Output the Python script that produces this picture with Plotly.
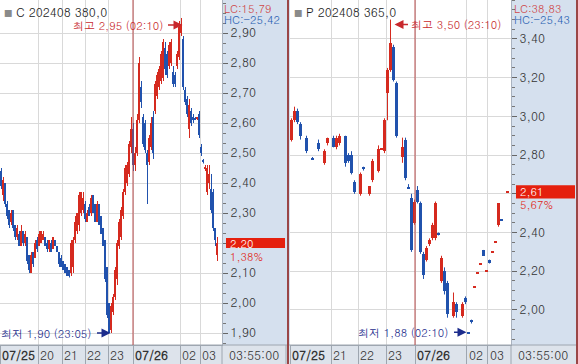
import plotly.graph_objects as go

# ---------------- data: C 202408 380,0 (5-min bars, slot index) ----------------
c_slot = list(range(0, 109))
c_open = [2.44,2.36,2.40,2.33,2.31,2.27,2.31,2.26,2.22,2.23,2.19,2.24,2.20,2.22,2.16,2.10,2.17,2.15,2.21,2.19,
          2.20,2.21,2.22,2.20,2.18,2.20,2.18,2.21,2.19,2.17,2.15,2.14,2.13,2.12,2.11,2.10,2.12,2.21,2.24,2.26,
          2.30,2.31,2.33,2.27,2.32,2.30,2.36,2.33,2.27,2.33,2.29,2.25,2.21,2.12,2.00,1.91,1.97,2.02,2.08,2.19,
          2.22,2.29,2.37,2.40,2.43,2.52,2.58,2.46,2.50,2.61,2.72,2.62,2.60,2.50,2.47,2.52,2.62,2.64,2.69,2.72,
          2.74,2.75,2.85,2.83,2.79,2.80,2.77,2.76,2.79,2.82,2.90,2.88,2.71,2.68,2.58,2.64,2.62,2.615,2.615,2.63,
          2.52,2.475,2.45,2.37,2.40,2.38,2.37,2.25,2.16]
c_high = [2.45,2.42,2.40,2.34,2.31,2.31,2.31,2.26,2.26,2.24,2.26,2.24,2.24,2.22,2.16,2.17,2.17,2.21,2.22,2.24,
          2.24,2.24,2.22,2.21,2.21,2.21,2.22,2.21,2.19,2.17,2.16,2.14,2.13,2.12,2.11,2.21,2.22,2.29,2.30,2.37,
          2.37,2.37,2.34,2.31,2.33,2.36,2.36,2.33,2.34,2.33,2.29,2.25,2.21,2.12,2.00,2.00,2.03,2.12,2.21,2.28,
          2.32,2.38,2.46,2.47,2.54,2.62,2.60,2.52,2.63,2.82,2.74,2.63,2.61,2.51,2.56,2.62,2.64,2.74,2.77,2.79,
          2.84,2.88,2.87,2.84,2.87,2.88,2.79,2.77,2.84,2.94,2.95,2.89,2.72,2.69,2.68,2.65,2.63,2.62,2.62,2.64,
          2.53,2.48,2.46,2.46,2.46,2.43,2.38,2.25,2.22]
c_low = [2.38,2.34,2.32,2.28,2.25,2.26,2.24,2.21,2.21,2.19,2.19,2.19,2.19,2.13,2.10,2.10,2.12,2.15,2.17,2.19,
         2.20,2.21,2.19,2.17,2.17,2.17,2.18,2.19,2.17,2.12,2.12,2.11,2.10,2.09,2.085,2.09,2.10,2.20,2.23,2.24,
         2.29,2.30,2.27,2.27,2.29,2.29,2.30,2.27,2.27,2.26,2.23,2.19,2.07,1.95,1.90,1.90,1.96,2.01,2.06,2.18,
         2.21,2.28,2.36,2.39,2.42,2.50,2.44,2.44,2.49,2.60,2.65,2.52,2.50,2.33,2.46,2.51,2.48,2.63,2.68,2.71,
         2.73,2.74,2.76,2.75,2.78,2.79,2.72,2.72,2.78,2.81,2.89,2.71,2.66,2.62,2.55,2.59,2.60,2.61,2.61,2.55,
         2.49,2.465,2.44,2.36,2.38,2.30,2.24,2.19,2.14]
c_close = [2.39,2.41,2.33,2.29,2.26,2.30,2.25,2.22,2.25,2.19,2.24,2.20,2.23,2.14,2.11,2.16,2.13,2.20,2.18,2.23,
           2.24,2.23,2.19,2.18,2.21,2.17,2.22,2.19,2.17,2.13,2.12,2.11,2.10,2.09,2.09,2.20,2.21,2.27,2.30,2.36,
           2.37,2.35,2.28,2.30,2.29,2.35,2.30,2.27,2.33,2.26,2.23,2.19,2.08,1.96,1.90,1.99,2.02,2.11,2.20,2.27,
           2.31,2.37,2.45,2.46,2.53,2.58,2.46,2.50,2.61,2.80,2.67,2.53,2.51,2.46,2.55,2.60,2.50,2.73,2.76,2.78,
           2.83,2.87,2.78,2.76,2.86,2.87,2.73,2.73,2.83,2.92,2.93,2.72,2.67,2.63,2.66,2.60,2.61,2.61,2.62,2.56,
           2.50,2.47,2.45,2.45,2.43,2.31,2.25,2.21,2.20]
c_tick_pos = [-0.75, 18.25, 30.25, 41.75, 53.25, 65.75, 89.25, 99.25]
c_tick_txt = ["07/25", "20", "21", "22", "23", "07/26", "02", "03"]
c_ylabels = [1.9, 2.0, 2.1, 2.2, 2.3, 2.4, 2.5, 2.6, 2.7, 2.8, 2.9]

# ---------------- data: P 202408 365,0 ----------------
p_slot = [0,1,2,3,5,7,9,11,12,14,15,16,18,19,20,21,23,24,26,27,29,30,31,32,33,34,35,37,38,39,40,41,42,43,44,45,46,47,48,49,
          50,51,52,54,55,57,58,59,60,61,62,63,64,65,66,67,68,69,70,72]
p_open = [2.88,2.98,3.03,2.96,2.89,2.785,2.86,2.76,2.86,2.89,2.84,2.86,2.90,2.80,2.80,2.66,2.60,2.735,2.60,2.67,2.72,2.83,2.82,3.12,3.24,3.36,3.17,2.79,2.88,2.635,
          2.58,2.45,2.62,2.55,2.29,2.26,2.34,2.37,2.37,2.395,2.15,2.20,2.14,1.97,2.03,1.97,2.06,1.885,1.945,2.12,2.19,2.24,2.31,2.20,2.26,2.30,2.35,2.44,2.465,2.61]
p_high = [2.99,3.05,3.04,2.97,2.90,2.79,2.88,2.83,2.89,2.90,2.90,2.91,2.90,2.81,2.82,2.67,2.71,2.74,2.64,2.78,2.85,2.83,2.99,3.25,3.50,3.37,3.18,2.89,2.89,2.65,
          2.60,2.57,2.64,2.56,2.30,2.33,2.37,2.45,2.56,2.40,2.28,2.22,2.15,2.09,2.04,2.04,2.07,1.885,1.95,2.12,2.19,2.24,2.31,2.20,2.26,2.30,2.35,2.55,2.465,2.61]
p_low = [2.87,2.97,2.96,2.88,2.81,2.78,2.82,2.75,2.85,2.84,2.83,2.85,2.74,2.76,2.70,2.60,2.59,2.72,2.59,2.66,2.71,2.83,2.81,2.98,3.23,3.18,2.89,2.76,2.67,2.63,
         2.30,2.44,2.55,2.29,2.16,2.25,2.33,2.36,2.36,2.385,2.14,2.08,1.96,1.96,1.96,1.96,2.03,1.88,1.93,2.12,2.19,2.24,2.28,2.20,2.24,2.30,2.35,2.43,2.46,2.61]
p_close = [2.98,3.03,2.97,2.90,2.82,2.78,2.83,2.82,2.89,2.84,2.89,2.90,2.76,2.77,2.71,2.61,2.70,2.73,2.64,2.77,2.83,2.83,2.98,3.24,3.38,3.19,2.90,2.84,2.68,2.63,
           2.31,2.56,2.56,2.30,2.18,2.32,2.36,2.44,2.55,2.39,2.27,2.10,1.98,2.04,1.99,2.03,2.04,1.88,1.94,2.12,2.19,2.24,2.28,2.20,2.24,2.30,2.35,2.55,2.46,2.61]
p_tick_pos = [-0.5, 13.17, 22.17, 31.5, 41.17, 58.5, 65.5]
p_tick_txt = ["07/25", "21", "22", "23", "07/26", "02", "03"]
p_ylabels = [2.0, 2.2, 2.4, 2.6, 2.8, 3.0, 3.2, 3.4]

# ---------------- style ----------------
W, H = 578, 364
RED = "#d52a1f"
BLUE = "#2152ad"
GRID = "#d9d9d9"
AXBG = "#d5e0ee"
STRIP = "#dde3eb"
FONT = "Dotum, Gulim, 'Noto Sans CJK KR', sans-serif"
STRIP_H = 19

def px(v):
    return v / W

def py(v):
    return 1 - v / H

def fmt(v):
    return f"{v:.2f}".replace(".", ",")

def ylabels(vals, last):
    # the current-price box covers the tick label next to it
    return ["" if abs(v - last) < 0.05 else fmt(v) for v in vals]

def candles(s, o, h, l, c, xa, ya, bw, eps):
    out = []
    for up, col in ((True, RED), (False, BLUE)):
        idx = [i for i in range(len(s)) if (c[i] >= o[i]) == up]
        wx, wy = [], []
        for i in idx:
            wx += [s[i], s[i], None]
            wy += [l[i], h[i], None]
        out.append(go.Scatter(x=wx, y=wy, mode="lines", line=dict(color=col, width=1),
                              xaxis=xa, yaxis=ya, hoverinfo="skip", showlegend=False))
        base, hgt = [], []
        for i in idx:
            lo, hi = min(o[i], c[i]), max(o[i], c[i])
            if hi - lo < eps:
                m = (hi + lo) / 2
                lo, hi = m - eps / 2, m + eps / 2
            base.append(lo)
            hgt.append(hi - lo)
        out.append(go.Bar(x=[s[i] for i in idx], y=hgt, base=base, width=bw,
                          marker=dict(color=col, line=dict(width=0)),
                          xaxis=xa, yaxis=ya, hoverinfo="skip", showlegend=False))
    return out

fig = go.Figure()
for t in candles(c_slot, c_open, c_high, c_low, c_close, "x", "y", 0.55, 0.004):
    fig.add_trace(t)
for t in candles(p_slot, p_open, p_high, p_low, p_close, "x2", "y2", 0.9, 0.006):
    fig.add_trace(t)

ydom = [STRIP_H / H, 1]
xcommon = dict(showticklabels=False, ticks="outside", ticklen=STRIP_H, tickcolor="#9ea6b0",
               showgrid=True, gridcolor=GRID, gridwidth=1, zeroline=False, showline=True,
               linecolor="#9ea6b0", fixedrange=True)
ycommon = dict(side="right", ticks="outside", ticklen=5, tickcolor="#666",
               showgrid=True, gridcolor=GRID, zeroline=False, showline=True, linecolor="#a9b2bf",
               tickfont=dict(family=FONT, size=12, color="#333"), fixedrange=True, domain=ydom)

fig.update_layout(
    width=W, height=H, margin=dict(l=0, r=0, t=0, b=0, pad=0), autosize=False,
    paper_bgcolor=AXBG, plot_bgcolor="white", barmode="overlay", bargap=0,
    separators=", ", showlegend=False, font=dict(family=FONT, size=12, color="#333"),
    xaxis=dict(domain=[0, px(222)], range=[-0.75, 110.25], tickvals=c_tick_pos, anchor="y", **xcommon),
    yaxis=dict(range=[1.86, 3.01], tickvals=c_ylabels, ticktext=ylabels(c_ylabels, c_close[-1]), anchor="x",
               minor=dict(dtick=0.1 / 3, tick0=1.9, ticks="outside", ticklen=3, tickcolor="#777", showgrid=False),
               **ycommon),
    xaxis2=dict(domain=[px(290), px(511)], range=[-0.5, 73.17], tickvals=p_tick_pos, anchor="y2", **xcommon),
    yaxis2=dict(range=[1.819, 3.601], tickvals=p_ylabels, ticktext=ylabels(p_ylabels, p_close[-1]), anchor="x2",
                minor=dict(dtick=0.05, tick0=2.0, ticks="outside", ticklen=3, tickcolor="#777", showgrid=False),
                **ycommon),
)

shapes = []
# bottom time strip
shapes.append(dict(type="rect", xref="paper", yref="paper", x0=0, x1=1, y0=0, y1=STRIP_H / H,
                   fillcolor=STRIP, line=dict(width=0), layer="below"))
shapes.append(dict(type="line", xref="paper", yref="paper", x0=0, x1=1, y0=STRIP_H / H, y1=STRIP_H / H,
                   line=dict(color="#9ea6b0", width=1)))
for xp in (222, 286, 511):
    shapes.append(dict(type="line", xref="paper", yref="paper", x0=px(xp), x1=px(xp), y0=0, y1=STRIP_H / H,
                       line=dict(color="#9ea6b0", width=1)))
# panel borders
for xp in (288, 577):
    shapes.append(dict(type="line", xref="paper", yref="paper", x0=px(xp), x1=px(xp), y0=0, y1=1,
                       line=dict(color="#9a4646", width=2)))
# day separators
shapes.append(dict(type="line", xref="x", yref="y domain", x0=c_tick_pos[5], x1=c_tick_pos[5], y0=0, y1=1,
                   line=dict(color="#b84a4a", width=1)))
shapes.append(dict(type="line", xref="x2", yref="y2 domain", x0=p_tick_pos[4], x1=p_tick_pos[4], y0=0, y1=1,
                   line=dict(color="#b84a4a", width=1)))
# current price boxes
shapes.append(dict(type="rect", xref="paper", yref="y", x0=px(226), x1=px(285),
                   y0=c_close[-1] - 0.017, y1=c_close[-1] + 0.017, fillcolor="#e5200e", line=dict(width=0), layer="above"))
shapes.append(dict(type="rect", xref="paper", yref="y2", x0=px(516), x1=px(575),
                   y0=p_close[-1] - 0.034, y1=p_close[-1] + 0.034, fillcolor="#e5200e", line=dict(width=0), layer="above"))
fig.update_layout(shapes=shapes)

ann = []
def text(x, y, s, color="#222", size=12, xanchor="left", xref="paper", yref="paper", xshift=0, yshift=0, bold=False):
    if bold:
        s = "<b>" + s + "</b>"
    ann.append(dict(x=x, y=y, xref=xref, yref=yref, text=s, showarrow=False, xanchor=xanchor, yanchor="middle",
                    xshift=xshift, yshift=yshift, borderpad=0, font=dict(family=FONT, size=size, color=color)))

def arrow(x, y, xref, yref, ax, color, xshift=0, yshift=0):
    ann.append(dict(x=x, y=y, xref=xref, yref=yref, text="", showarrow=True, ax=ax, ay=0,
                    arrowhead=2, arrowsize=1.2, arrowwidth=1.5, arrowcolor=color, standoff=0,
                    xshift=xshift, yshift=yshift))

# titles
text(px(3), py(12), "<span style='color:#8a8a8a;font-size:9px'>■</span> C 202408 380,0")
text(px(293), py(12), "<span style='color:#8a8a8a;font-size:9px'>■</span> P 202408 365,0")
text(px(223), py(8), "LC:15,79", color="#cf4848", size=11)
text(px(223), py(19), "HC:-25,42", color="#2b62b3", size=11)
text(px(513), py(8), "LC:38,83", color="#cf4848", size=11)
text(px(513), py(19), "HC:-25,43", color="#2b62b3", size=11)

# current price labels
text(px(229), c_close[-1], fmt(c_close[-1]), color="white", yref="y", size=11)
text(px(229), c_close[-1], "1,38%", color="#e02a1a", yref="y", yshift=-13, size=11)
text(px(519), p_close[-1], fmt(p_close[-1]), color="white", yref="y2", size=11)
text(px(519), p_close[-1], "5,67%", color="#e02a1a", yref="y2", yshift=-13, size=11)

# high / low markers
ci_hi = max(range(len(c_high)), key=lambda i: c_high[i])
ci_lo = min(range(len(c_low)), key=lambda i: c_low[i])
pi_hi = max(range(len(p_high)), key=lambda i: p_high[i])
pi_lo = min(range(len(p_low)), key=lambda i: p_low[i])
HI_C = "#c8282d"
LO_C = "#1c2c8c"
arrow(c_slot[ci_hi], c_high[ci_hi], "x", "y", -16, HI_C, xshift=1, yshift=-7)
text(c_slot[ci_hi], c_high[ci_hi], "최고 2,95 (02:10)", color=HI_C, size=11, xanchor="right", xref="x", yref="y", xshift=-18, yshift=-7)
arrow(c_slot[ci_lo], c_low[ci_lo], "x", "y", -15, LO_C, xshift=1, yshift=0)
text(c_slot[ci_lo], c_low[ci_lo], "최저 1,90 (23:05)", color=LO_C, size=11, xanchor="right", xref="x", yref="y", xshift=-18)
arrow(p_slot[pi_hi], p_high[pi_hi], "x2", "y2", 15, HI_C, xshift=4, yshift=-5)
text(p_slot[pi_hi], p_high[pi_hi], "최고 3,50 (23:10)", color=HI_C, size=11, xanchor="left", xref="x2", yref="y2", xshift=19, yshift=-5)
arrow(p_slot[pi_lo], p_low[pi_lo], "x2", "y2", -14, LO_C, xshift=-2, yshift=1)
text(p_slot[pi_lo], p_low[pi_lo], "최저 1,88 (02:10)", color=LO_C, size=11, xanchor="right", xref="x2", yref="y2", xshift=-19, yshift=1)

# time labels
ystrip = (STRIP_H / 2) / H
for pos, lab in zip(c_tick_pos, c_tick_txt):
    text(pos, ystrip, lab, color="#333", xref="x", bold="/" in lab, xshift=1)
for pos, lab in zip(p_tick_pos, p_tick_txt):
    text(pos, ystrip, lab, color="#333", xref="x2", bold="/" in lab, xshift=1)
text(px(254), ystrip, "03:55:00", color="#333", xanchor="center")
text(px(543), ystrip, "03:55:00", color="#333", xanchor="center")

fig.update_layout(annotations=ann)
fig.write_html("out.html", config={"displayModeBar": False},
               post_script="document.body.style.margin='0';document.body.style.overflow='hidden';")
